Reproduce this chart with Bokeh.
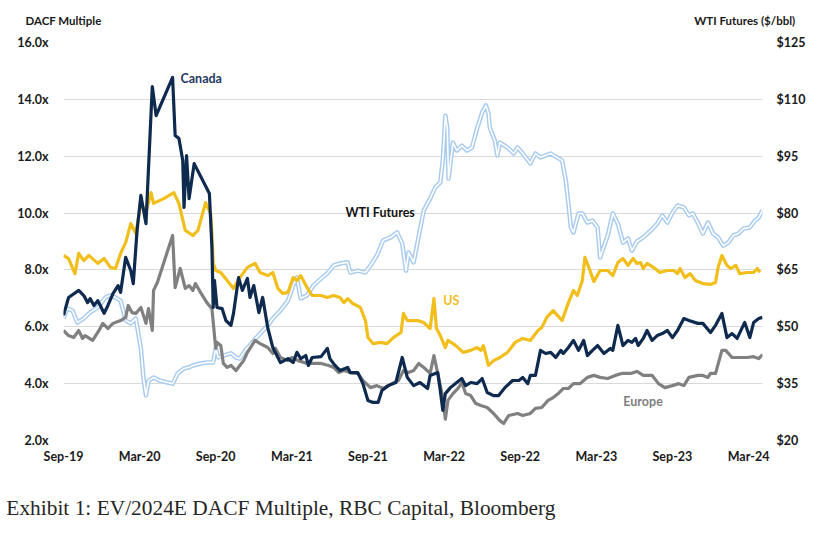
from bokeh.plotting import figure
from bokeh.models import Range1d, LinearAxis, FixedTicker, Label
from bokeh.embed import file_html
from bokeh.resources import INLINE

# ---------------- data ----------------
# x values are months since Sep-2019
x_ticks = [0, 6, 12, 18, 24, 30, 36, 42, 48, 54]
x_tick_labels = ["Sep-19", "Mar-20", "Sep-20", "Mar-21", "Sep-21", "Mar-22",
                 "Sep-22", "Mar-23", "Sep-23", "Mar-24"]
left_ticks = [2, 4, 6, 8, 10, 12, 14, 16]
left_tick_labels = ["2.0x", "4.0x", "6.0x", "8.0x", "10.0x", "12.0x", "14.0x", "16.0x"]
right_ticks = [20, 35, 50, 65, 80, 95, 110, 125]
right_tick_labels = ["$20", "$35", "$50", "$65", "$80", "$95", "$110", "$125"]
header_positions = [0, 53.7]
header_labels = ["DACF Multiple", "WTI Futures ($/bbl)"]
caption_position = [17.14]
caption = ["Exhibit 1: EV/2024E DACF Multiple, RBC Capital, Bloomberg"]

canada_x = [0.0, 0.4, 1.2, 1.6, 1.9, 2.1, 2.4, 2.7, 2.9, 3.2, 3.5, 3.9, 4.3, 4.5, 4.9, 5.3, 5.5,
            5.8, 6.1, 6.5, 6.9, 7.0, 7.3, 8.6, 8.8, 9.1, 9.4, 9.5, 9.7, 9.9, 10.3, 11.5, 11.7,
            11.8, 11.9, 12.1, 12.5, 12.8, 13.2, 13.4, 13.8, 14.1, 14.5, 14.7, 15.0, 15.4, 15.7,
            16.1, 16.3, 16.5, 17.1, 17.7, 18.1, 18.4, 18.7, 19.1, 19.3, 19.6, 20.3, 20.8, 21.0,
            21.4, 21.8, 22.4, 22.6, 23.2, 23.6, 24.0, 24.4, 24.8, 25.1, 25.6, 26.2, 26.7, 27.1,
            27.6, 28.1, 28.7, 28.9, 29.5, 29.7, 29.9, 30.1, 30.5, 31.0, 31.4, 31.7, 32.1, 32.6,
            33.0, 33.4, 33.9, 34.3, 34.8, 35.4, 35.9, 36.2, 36.6, 36.8, 37.2, 37.6, 38.0, 38.4,
            38.8, 39.2, 39.4, 39.8, 40.2, 40.6, 41.0, 41.3, 41.7, 42.1, 42.6, 43.1, 43.3, 43.7,
            44.1, 44.5, 44.8, 45.1, 45.3, 45.7, 46.0, 46.4, 46.8, 47.2, 47.6, 48.0, 48.4, 48.9,
            49.3, 50.0, 50.4, 51.0, 51.4, 51.9, 52.3, 52.7, 53.1, 53.5, 53.7, 54.1, 54.4, 54.8, 55.1]
canada_y = [6.40, 7.03, 7.28, 7.10, 6.85, 6.99, 6.75, 6.92, 6.75, 6.47, 6.75, 7.17, 7.45, 7.21,
            8.44, 7.98, 7.52, 9.39, 10.62, 9.63, 13.50, 14.45, 13.43, 14.77, 12.73, 12.62, 11.85,
            10.20, 12.02, 10.51, 11.74, 10.69, 8.79, 6.68, 7.63, 6.68, 6.64, 6.22, 6.05, 6.47, 7.73,
            7.28, 7.70, 7.03, 7.45, 6.50, 7.03, 5.97, 5.62, 5.27, 4.74, 4.88, 4.74, 5.10, 4.88, 4.99,
            4.64, 4.92, 4.95, 5.24, 4.88, 4.64, 4.46, 4.57, 4.39, 4.39, 4.00, 3.41, 3.34, 3.34, 3.76,
            3.93, 4.04, 4.92, 4.22, 3.93, 4.04, 3.83, 4.29, 4.39, 3.76, 3.06, 3.65, 3.86, 4.04, 4.18,
            3.93, 4.04, 4.00, 4.18, 3.69, 3.58, 3.58, 3.86, 4.11, 4.11, 4.22, 4.00, 4.29, 4.29, 5.17,
            5.06, 5.10, 4.92, 5.17, 5.06, 5.27, 5.52, 5.17, 5.52, 4.99, 5.17, 5.34, 5.06, 5.24, 5.17,
            6.05, 5.34, 5.52, 5.45, 5.59, 5.34, 5.59, 5.87, 5.52, 5.69, 5.76, 5.87, 5.62, 5.87, 6.29,
            6.22, 6.12, 6.12, 5.80, 6.05, 6.47, 5.62, 5.76, 5.59, 5.97, 6.15, 5.62, 6.15, 6.29, 6.33]

us_x = [0.0, 0.4, 0.9, 1.2, 1.6, 2.0, 2.7, 3.2, 3.7, 4.1, 4.5, 4.9, 5.3, 5.7, 6.1, 6.5, 6.9, 7.1,
        7.9, 8.7, 9.1, 9.6, 10.2, 10.6, 11.2, 11.6, 11.7, 11.8, 12.0, 12.4, 12.9, 13.4, 13.9, 14.5,
        15.1, 15.5, 16.1, 16.5, 16.9, 17.3, 17.7, 18.1, 18.4, 18.7, 19.2, 19.6, 20.3, 20.8, 21.3,
        21.8, 22.1, 22.4, 22.8, 23.4, 23.8, 24.0, 24.4, 25.0, 25.5, 26.0, 26.6, 26.8, 27.1, 27.9,
        28.4, 28.8, 28.9, 29.2, 29.4, 29.7, 30.1, 30.3, 30.7, 31.1, 31.5, 32.1, 32.6, 32.9, 33.1,
        33.5, 33.9, 34.4, 35.0, 35.6, 36.2, 36.8, 37.4, 37.7, 38.1, 38.6, 39.3, 39.8, 40.2, 40.5,
        40.9, 41.1, 41.5, 41.8, 42.3, 42.9, 43.3, 43.7, 44.1, 44.5, 44.9, 45.2, 45.5, 45.7, 46.0,
        46.5, 47.0, 47.6, 48.1, 48.4, 48.6, 49.0, 49.4, 49.8, 50.4, 51.0, 51.4, 51.6, 51.9, 52.3,
        52.6, 53.0, 53.3, 53.9, 54.4, 54.7, 54.9]
us_y = [8.51, 8.40, 7.87, 8.58, 8.33, 8.51, 8.23, 8.40, 8.09, 8.05, 8.58, 8.96, 9.63, 9.28, 10.34,
        10.02, 10.72, 10.34, 10.51, 10.72, 10.34, 9.39, 9.21, 9.39, 10.37, 9.98, 9.28, 8.23, 7.98,
        7.91, 7.63, 7.35, 7.73, 8.09, 8.23, 7.91, 7.80, 7.91, 7.35, 7.17, 7.21, 7.73, 7.63, 7.80,
        7.38, 7.10, 7.10, 7.03, 7.10, 7.03, 6.85, 6.99, 6.82, 6.68, 6.22, 5.62, 5.41, 5.45, 5.41,
        5.62, 5.80, 6.47, 6.22, 6.22, 6.15, 5.97, 5.94, 6.99, 5.94, 5.69, 5.27, 5.52, 5.41, 5.27,
        5.10, 5.17, 5.27, 5.17, 5.34, 4.64, 4.81, 4.92, 5.10, 5.45, 5.59, 5.52, 5.87, 5.97, 6.33,
        6.57, 6.22, 6.85, 7.28, 7.10, 7.63, 8.44, 7.98, 7.59, 7.98, 7.98, 7.80, 8.26, 8.40, 8.16,
        8.40, 8.23, 8.26, 8.05, 8.23, 8.09, 7.91, 7.98, 7.98, 7.87, 8.05, 7.73, 7.87, 7.63, 7.52,
        7.49, 7.56, 8.09, 8.51, 8.16, 8.05, 8.16, 7.87, 7.91, 7.91, 8.05, 7.91]

europe_x = [0.0, 0.4, 0.8, 1.2, 1.5, 1.7, 2.3, 2.8, 3.1, 3.5, 3.9, 4.5, 4.9, 5.1, 5.4, 5.7, 6.1,
            6.5, 6.7, 7.0, 7.1, 7.4, 8.6, 8.8, 9.2, 9.6, 9.9, 10.2, 10.4, 10.8, 11.3, 11.7, 12.0,
            12.1, 12.4, 12.6, 12.9, 13.2, 13.6, 13.9, 14.2, 14.5, 15.1, 15.5, 16.1, 16.5, 16.7,
            17.1, 17.7, 18.0, 18.5, 19.2, 19.7, 20.3, 20.9, 21.3, 21.7, 22.1, 22.6, 23.2, 23.6,
            24.2, 24.7, 25.2, 25.9, 26.4, 26.8, 27.2, 27.6, 28.0, 28.5, 28.9, 29.2, 29.5, 29.9,
            30.1, 30.3, 30.7, 31.1, 31.4, 31.7, 32.1, 32.5, 32.9, 33.4, 33.9, 34.4, 34.7, 35.1,
            35.8, 36.2, 36.8, 37.2, 37.7, 38.2, 38.6, 39.0, 39.4, 39.8, 40.2, 40.7, 41.3, 41.8,
            42.3, 42.9, 43.5, 44.0, 44.7, 45.2, 45.7, 46.4, 46.9, 47.4, 48.0, 48.5, 48.9, 49.3,
            50.0, 50.4, 50.8, 51.0, 51.4, 51.9, 52.2, 52.7, 53.3, 53.9, 54.4, 54.8, 55.1]
europe_y = [5.87, 5.69, 5.62, 5.87, 5.59, 5.69, 5.52, 5.87, 6.12, 5.94, 6.12, 6.22, 6.33, 6.75,
            6.50, 6.47, 6.68, 6.12, 6.64, 5.87, 7.28, 7.56, 9.21, 7.38, 8.05, 7.35, 7.45, 7.28, 7.52,
            7.21, 6.85, 6.64, 5.24, 5.45, 5.34, 4.71, 4.57, 4.64, 4.46, 4.64, 4.81, 5.10, 5.52, 5.41,
            5.27, 5.06, 5.24, 4.92, 4.81, 4.92, 4.81, 4.71, 4.71, 4.71, 4.64, 4.57, 4.39, 4.46, 4.39,
            4.36, 4.11, 3.86, 3.93, 3.83, 4.00, 4.11, 4.46, 4.39, 4.46, 4.71, 4.53, 4.36, 4.99, 4.36,
            3.51, 2.75, 3.41, 3.65, 3.83, 4.04, 3.65, 3.58, 3.30, 3.23, 3.16, 2.95, 2.70, 2.60, 2.88,
            2.95, 2.88, 2.95, 3.13, 3.16, 3.41, 3.51, 3.65, 3.83, 3.83, 4.00, 4.00, 4.22, 4.29, 4.22,
            4.18, 4.29, 4.36, 4.36, 4.43, 4.29, 4.29, 4.00, 3.86, 3.93, 4.00, 3.93, 4.22, 4.29, 4.29,
            4.22, 4.36, 4.36, 5.17, 5.17, 4.92, 4.92, 4.92, 4.95, 4.88, 5.02]

wti_x = [0.0, 0.3, 0.7, 1.1, 1.6, 2.1, 2.7, 3.3, 3.7, 4.1, 4.5, 4.9, 5.3, 5.7, 6.1, 6.3, 6.5, 6.7,
         7.1, 7.6, 8.2, 8.6, 9.0, 9.5, 9.9, 10.2, 10.8, 11.3, 11.8, 12.0, 12.2, 12.6, 13.2, 13.6,
         13.9, 14.3, 14.7, 15.0, 15.5, 16.1, 16.5, 17.1, 17.7, 18.1, 18.4, 18.7, 19.2, 19.7, 20.3,
         20.8, 21.3, 21.8, 22.4, 22.6, 23.2, 23.8, 24.3, 24.7, 25.2, 25.8, 26.3, 26.7, 27.0, 27.2,
         27.6, 28.4, 28.9, 29.3, 29.7, 29.9, 30.1, 30.25, 30.35, 30.7, 31.0, 31.4, 31.8, 32.2,
         32.6, 33.0, 33.3, 33.5, 33.6, 34.0, 34.2, 34.4, 35.0, 35.5, 35.8, 36.2, 36.8, 37.2, 37.6,
         38.4, 38.9, 39.3, 39.6, 40.0, 40.2, 40.6, 40.9, 41.3, 41.7, 42.1, 42.3, 42.9, 43.3, 43.7,
         44.1, 44.5, 44.8, 45.2, 45.7, 46.3, 46.8, 47.2, 47.6, 48.0, 48.4, 48.9, 49.3, 49.6, 50.0,
         50.4, 50.8, 51.2, 51.6, 52.0, 52.4, 52.8, 53.2, 53.6, 54.1, 54.5, 54.8, 55.1]
wti_y = [52.2, 54.8, 54.3, 51.1, 52.2, 53.8, 55.1, 57.7, 58.3, 57.7, 56.9, 51.7, 50.9, 52.2, 44.3,
         36.6, 31.9, 35.8, 36.6, 35.8, 35.3, 35.0, 37.7, 39.0, 39.3, 39.8, 40.3, 40.6, 40.6, 44.3,
         41.9, 42.4, 43.0, 41.9, 41.6, 43.7, 45.1, 46.4, 48.2, 50.3, 52.2, 54.3, 56.9, 60.9, 63.0,
         57.5, 58.3, 60.9, 62.7, 64.1, 66.2, 66.7, 67.0, 64.3, 64.8, 64.3, 66.7, 68.8, 72.8, 73.6,
         74.9, 72.0, 64.8, 69.6, 67.0, 80.7, 83.8, 86.7, 88.1, 93.9, 105.7, 102.6, 89.1, 98.6, 96.5,
         97.8, 96.5, 97.3, 102.3, 106.5, 108.4, 106.3, 102.6, 99.1, 95.2, 98.6, 97.3, 95.7, 97.3,
         95.7, 93.1, 95.7, 94.7, 95.7, 94.7, 93.9, 88.6, 76.2, 74.9, 79.9, 79.9, 77.5, 78.0, 76.2,
         68.3, 74.1, 79.9, 77.2, 72.2, 73.3, 70.1, 72.5, 73.6, 75.4, 77.2, 79.4, 77.5, 80.1, 82.0,
         81.5, 79.4, 79.9, 77.5, 74.6, 77.5, 74.6, 73.6, 71.4, 72.2, 74.1, 74.6, 75.9, 76.2, 78.0,
         78.8, 80.7]

# ---------------- figure ----------------
TICK_FONT = "Lato"
W, H = 830, 533
p = figure(width=W, height=H, output_backend="svg", toolbar_location=None,
           x_range=Range1d(0, 55.1), y_range=Range1d(2, 16),
           min_border_left=63, min_border_right=W - 762, min_border_top=42,
           min_border_bottom=H - 440)
p.extra_y_ranges = {"wti": Range1d(20, 125)}
p.outline_line_color = None
p.background_fill_color = "white"
p.xgrid.visible = False
p.ygrid.grid_line_color = "#D9D9D9"
p.ygrid.grid_line_width = 1
p.ygrid.ticker = FixedTicker(ticks=left_ticks)

xa = p.xaxis[0]
xa.ticker = FixedTicker(ticks=x_ticks)
xa.major_label_overrides = {t: l for t, l in zip(x_ticks, x_tick_labels)}
ya = p.yaxis[0]
ya.ticker = FixedTicker(ticks=left_ticks)
ya.major_label_overrides = {t: l for t, l in zip(left_ticks, left_tick_labels)}

ra = LinearAxis(y_range_name="wti")
ra.ticker = FixedTicker(ticks=right_ticks)
ra.major_label_overrides = {t: l for t, l in zip(right_ticks, right_tick_labels)}
p.add_layout(ra, "right")

# axis headers, set in one row above the plot area
ha = LinearAxis()
ha.ticker = FixedTicker(ticks=header_positions)
ha.major_label_overrides = {t: l for t, l in zip(header_positions, header_labels)}
p.add_layout(ha, "above")

# source caption, set in a row below the date labels
ca = LinearAxis()
ca.ticker = FixedTicker(ticks=caption_position)
ca.major_label_overrides = {t: l for t, l in zip(caption_position, caption)}
p.add_layout(ca, "below")

for ax in (xa, ya, ra, ha, ca):
    ax.axis_line_color = None
    ax.major_tick_line_color = None
    ax.minor_tick_line_color = None
    ax.major_label_text_font = TICK_FONT
    ax.major_label_text_font_style = "bold"
    ax.major_label_text_font_size = "12.5px"
    ax.major_label_text_color = "#1a1a1a"
ha.major_label_text_font_size = "11.5px"
ha.major_label_standoff = 10
xa.major_label_standoff = 2
ya.major_label_standoff = 9
ra.major_label_standoff = 8
ca.major_tick_out = 0
ca.major_tick_in = 0
ca.major_label_standoff = 29
ca.major_label_text_font = "Liberation Serif"
ca.major_label_text_font_style = "normal"
ca.major_label_text_font_size = "21.4px"
ca.major_label_text_color = "#262626"

# WTI double line (light blue outline, white core)
p.line(wti_x, wti_y, y_range_name="wti", line_color="#A8CBEE", line_width=4.5,
       line_join="round")
p.line(wti_x, wti_y, y_range_name="wti", line_color="white", line_width=1.6,
       line_join="round")
p.line(europe_x, europe_y, line_color="#808080", line_width=3.2, line_join="round")
p.line(us_x, us_y, line_color="#F2BE1C", line_width=3.2, line_join="round")
p.line(canada_x, canada_y, line_color="#0E2A4E", line_width=3.2, line_join="round")

def lab(x, y, text, color, size="12.5px"):
    p.add_layout(Label(x=x, y=y, text=text, text_color=color, text_font=TICK_FONT,
                       text_font_size=size, text_font_style="bold",
                       text_align="left", text_baseline="middle"))

lab(9.22, 14.73, "Canada", "#1F3864")
lab(22.22, 10.02, "WTI Futures", "#111111")
lab(29.94, 6.92, "US", "#F2BE1C")
lab(44.13, 3.37, "Europe", "#7F7F7F")

open("out.html", "w").write(file_html(p, INLINE))
